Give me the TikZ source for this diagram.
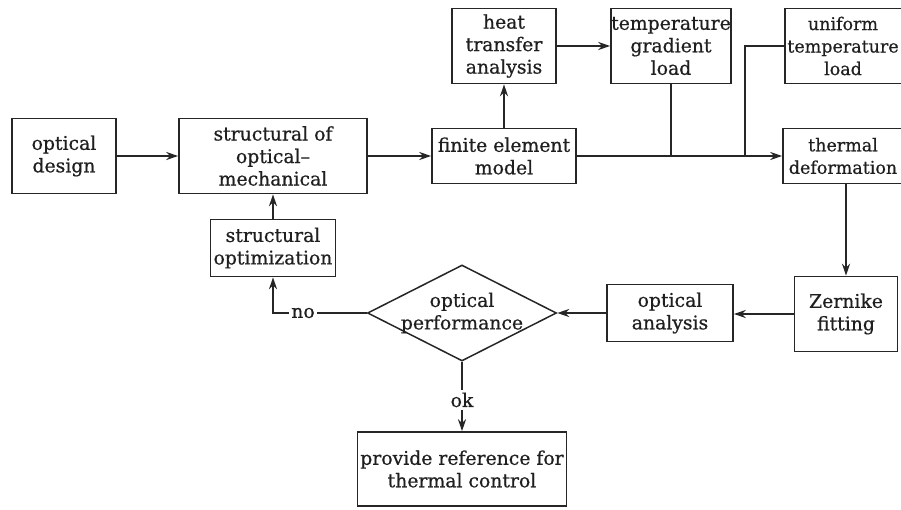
\documentclass[tikz,border=0pt]{standalone}
\usepackage{fontspec}
\setmainfont{DejaVu Serif}[FakeBold=0.6]
\usetikzlibrary{shapes.geometric,arrows.meta}
\begin{document}
\begin{tikzpicture}[x=1pt,y=-1pt,
  txt/.style={align=center, inner sep=0pt, font=\fontsize{18.8}{22.5}\selectfont, text=black!88},
  txtr/.style={txt, font=\fontsize{17.5}{22.5}\selectfont},
  box/.style={txt, draw=black!85, line width=1.6pt},
  arr/.style={draw=black!85, line width=1.8pt, -{Stealth[length=12pt,width=8pt,inset=4pt]}},
  ln/.style={draw=black!85, line width=1.8pt}]
\clip (0,0) rectangle (901,510);
\fill[white] (0,0) rectangle (901,510);
% top row
\node[box, minimum width=104pt, minimum height=75pt] (hta) at (504,46) {heat\\transfer\\analysis};
\node[box, minimum width=120pt, minimum height=75pt] (tgl) at (671,46) {temperature\\gradient\\load};
\node[box, minimum width=122pt, minimum height=75pt] (utl) at (846,46) {};
\node[txtr] (utlt) at (843,46) {uniform\\temperature\\load};
% middle row
\node[box, minimum width=104pt, minimum height=75pt] (od) at (64,156) {optical\\design};
\node[box, minimum width=188pt, minimum height=75pt] (som) at (273,156) {structural of\\optical\textendash\\mechanical};
\node[box, minimum width=144pt, minimum height=55pt] (fem) at (504,156) {finite element\\model};
\node[box, minimum width=126pt, minimum height=55pt] (td) at (846,156) {};
\node[txtr] (tdt) at (843,156) {thermal\\deformation};
% lower rows
\node[box, minimum width=125pt, minimum height=57pt] (so) at (273,248) {structural\\optimization};
\node[draw=black!85, line width=1.5pt, diamond, minimum width=189pt, minimum height=96pt, inner sep=0pt] (dp) at (462,313) {};
\node[txt] (dpt) at (dp.center) {optical\\performance};
\node[box, minimum width=126pt, minimum height=57pt] (oa) at (670,313) {optical\\analysis};
\node[box, minimum width=103pt, minimum height=75pt] (zf) at (846,314) {Zernike\\fitting};
\node[box, minimum width=209pt, minimum height=74pt] (prc) at (462,469) {provide reference for\\thermal control};
% connectors
\coordinate (j1) at (tgl.south |- fem.east);
\coordinate (j2) at (745,156);
\draw[arr] (od) -- (som);
\draw[arr] (som) -- (fem);
\draw[arr] (fem) -- (td);
\draw[arr] (fem) -- (hta);
\draw[arr] (hta) -- (tgl);
\draw[ln] (tgl.south) -- (j1);
\draw[ln] (utl.west) -| (j2);
\draw[arr] (td) -- (zf);
\draw[arr] (zf.west) -- (zf.west -| oa.east);
\draw[arr] (oa) -- (dp);
\draw[arr] (dp.west) -| node[pos=0.34, txt, fill=white, inner xsep=2pt] (no) {no} (so.south);
\draw[arr] (so) -- (som);
\draw[arr] (dp.south) -- node[pos=0.55, txt, fill=white, inner ysep=3pt] (ok) {ok} (prc.north);
\end{tikzpicture}
\end{document}
